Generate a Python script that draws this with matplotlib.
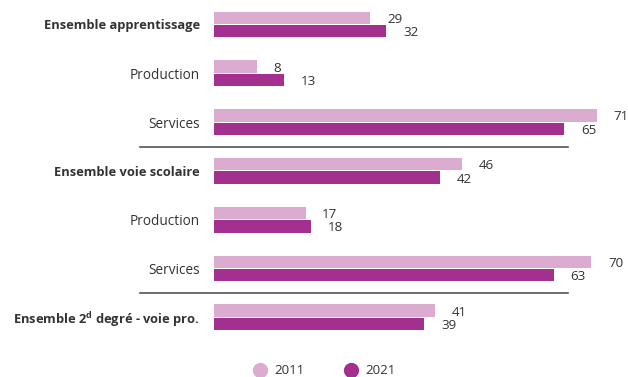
import matplotlib.pyplot as plt
from matplotlib.lines import Line2D

categories = ['Ensemble apprentissage', 'Production', 'Services',
              'Ensemble voie scolaire', 'Production', 'Services',
              'Ensemble 2$^{\\mathregular{d}}$ degré - voie pro.']
bold_rows = [0, 3, 6]
v2011 = [29, 8, 71, 46, 17, 70, 41]
v2021 = [32, 13, 65, 42, 18, 63, 39]
years = ['2011', '2021']

c2011 = '#dcabd0'
c2021 = '#a3308f'
txt = '#333333'

plt.rcParams['font.family'] = ['Open Sans', 'DejaVu Sans']

fig = plt.figure(figsize=(6.28, 3.77), dpi=100)
ax = fig.add_axes([214 / 628, 0, 414 / 628, 1])

scale = 5.39  # px per unit
ax.set_xlim(0, 414 / scale)
ax.set_ylim((377 - 24.5) / 48.8, -24.5 / 48.8)

h = 0.255
ypos = list(range(len(categories)))
ax.barh([y - h / 2 - 0.01 for y in ypos], v2011, height=h, color=c2011)
ax.barh([y + h / 2 + 0.01 for y in ypos], v2021, height=h, color=c2021)

for y, a, b in zip(ypos, v2011, v2021):
    ax.annotate(str(a), (a, y - h / 2 + 0.02), xytext=(12, 0), textcoords='offset points',
                va='center', ha='left', fontsize=9.6, color=txt, annotation_clip=False)
    ax.annotate(str(b), (b, y + h / 2 + 0.04), xytext=(12, 0), textcoords='offset points',
                va='center', ha='left', fontsize=9.6, color=txt, annotation_clip=False)

ax.set_yticks(ypos)
ax.set_yticklabels(categories, fontsize=9.8, color=txt)
for i, lab in enumerate(ax.get_yticklabels()):
    if i in bold_rows:
        lab.set_fontweight('bold')
        lab.set_fontsize(9.3)
ax.tick_params(axis='y', length=0, pad=10)
ax.set_xticks([])
for s in ax.spines.values():
    s.set_visible(False)

# separators between the three blocks
for y in [2.5, 5.5]:
    ax.plot([-74 / 414, 354 / 414], [y, y], color='#555555', lw=1.2,
            transform=ax.get_yaxis_transform(), clip_on=False)

handles = [Line2D([], [], marker='o', ls='', markersize=10, color=c)
           for c in (c2011, c2021)]
fig.legend(handles, years, loc='center', bbox_to_anchor=(321 / 628, 1 - 371 / 377),
           ncol=2, frameon=False, fontsize=9.5, handletextpad=0.1, columnspacing=2.5,
           labelcolor=txt)

fig.savefig('out.png', dpi=100)
